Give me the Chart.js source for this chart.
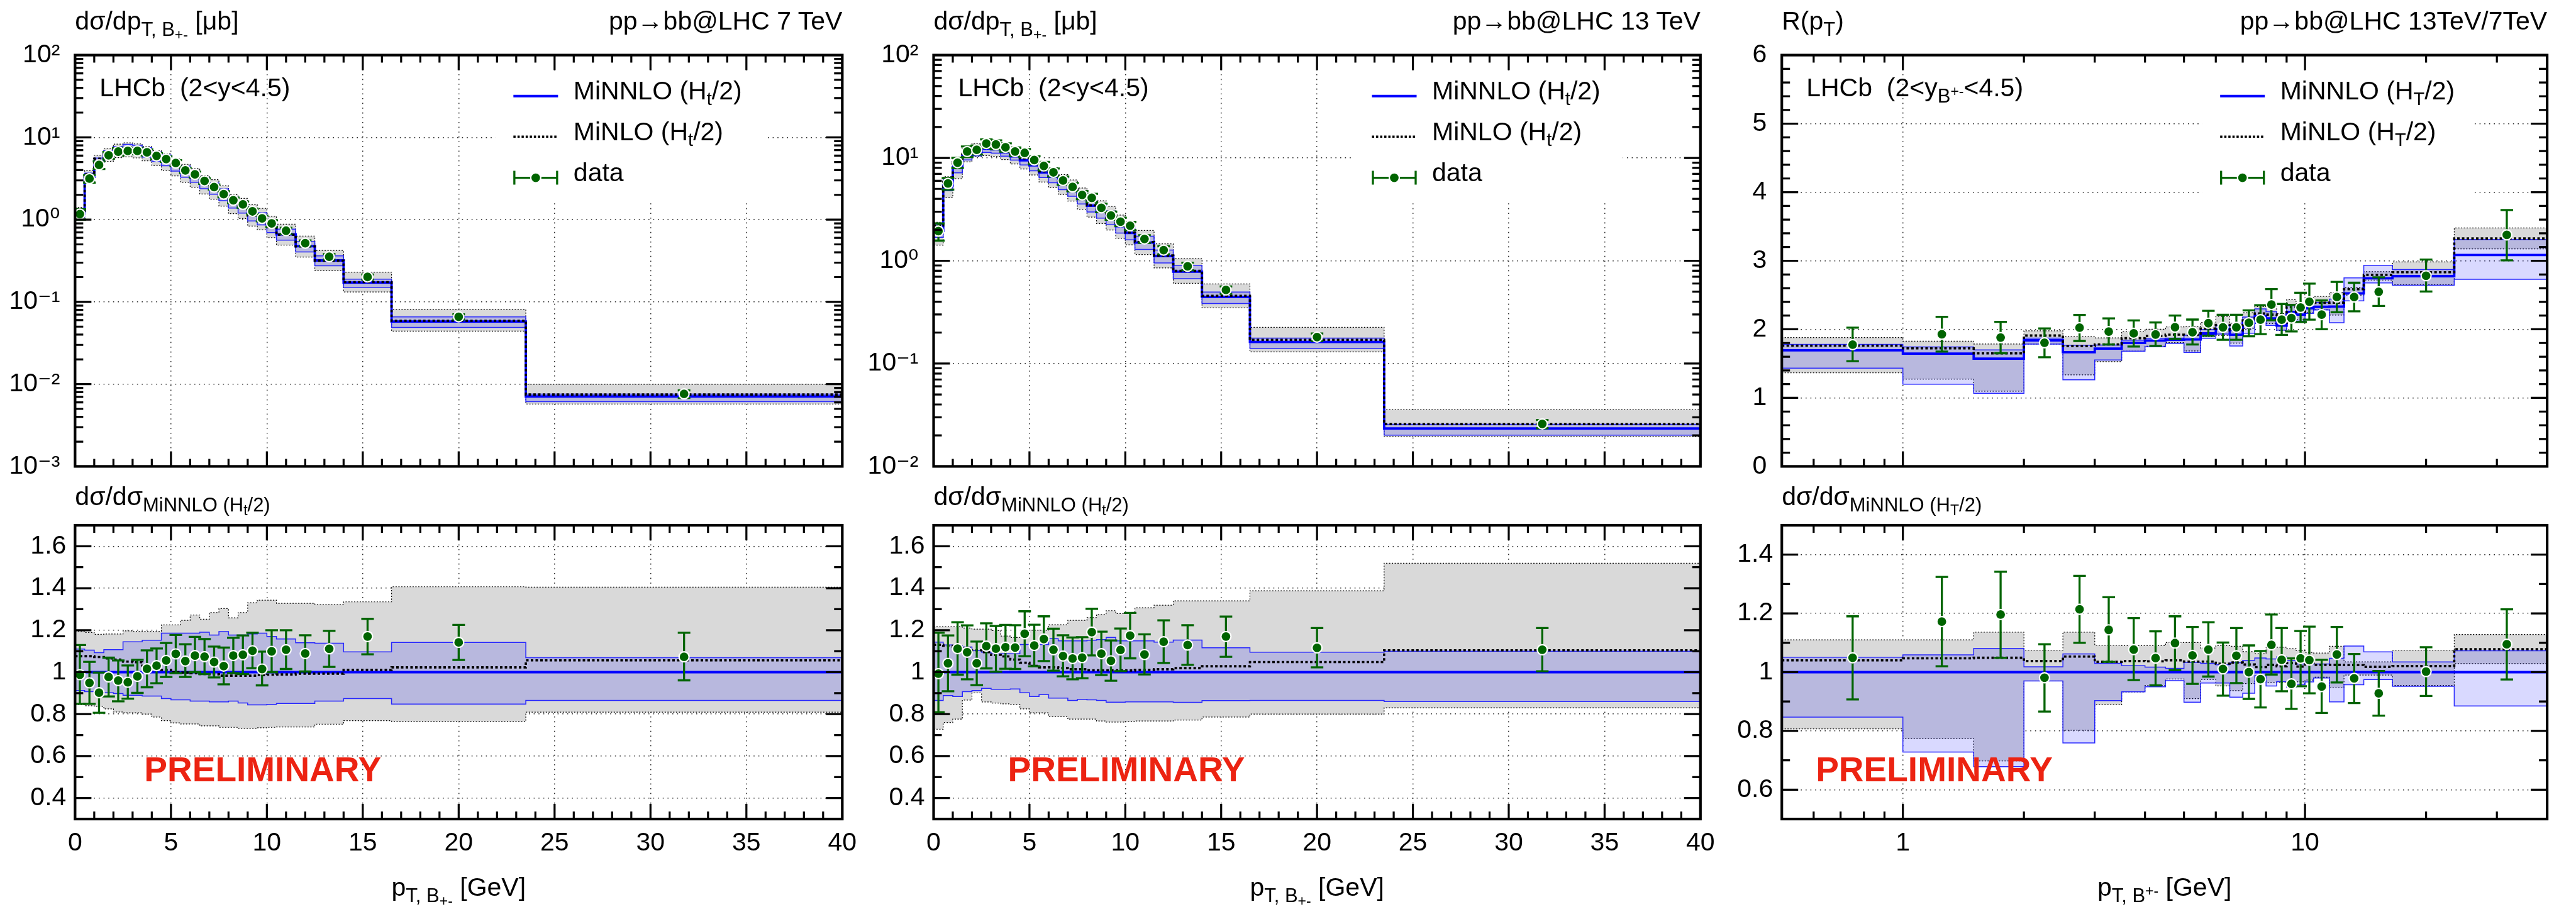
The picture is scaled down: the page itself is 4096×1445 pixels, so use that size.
<!DOCTYPE html>
<html><head><meta charset="utf-8">
<script src="https://cdn.jsdelivr.net/npm/chart.js@4.4.1/dist/chart.umd.min.js"></script>
<style>
html,body{margin:0;padding:0;background:#fff;}
body{width:4096px;height:1445px;position:relative;overflow:hidden;font-family:"Liberation Sans","DejaVu Sans",Arial,sans-serif;color:#000;}
canvas{position:absolute;}
.t{position:absolute;white-space:nowrap;font-size:41px;line-height:41px;}
.sb{position:relative;font-size:31px;top:10px;}
.ssb{position:relative;font-size:23px;top:6px;}
.ssp{position:relative;font-size:23px;top:-10px;}
.lsb{position:relative;font-size:29px;top:9px;}
.prelim{font-weight:bold;font-size:55px;line-height:55px;color:#ec2312;}
</style></head><body>
<script>
// ---------------- binning / categories ----------------
const EDGES = [0,0.5,1,1.5,2,2.5,3,3.5,4,4.5,5,5.5,6,6.5,7,7.5,8,8.5,9,9.5,10,10.5,11.5,12.5,14,16.5,23.5,40];
const EDGES_R = [0.5,1,1.5,2,2.5,3,3.5,4,4.5,5,5.5,6,6.5,7,7.5,8,8.5,9,9.5,10,10.5,11.5,12.5,14,16.5,23.5,40];
const XC = [0.25,0.75,1.25,1.75,2.25,2.75,3.25,3.75,4.25,4.75,5.25,5.75,6.25,6.75,7.25,7.75,8.25,8.75,9.25,9.75,10.25,11,12,13.25,15.25,20,31.75];
const XC_R = [0.75,1.25,1.75,2.25,2.75,3.25,3.75,4.25,4.75,5.25,5.75,6.25,6.75,7.25,7.75,8.25,8.75,9.25,9.75,10.25,11,12,13.25,15.25,20,31.75];

// ---------------- tick labels ----------------
const X_TICKS = [0,5,10,15,20,25,30,35,40];
const X_TICKS_LOG = [1,10];
const Y_TICKS_7 = [0.001,0.01,0.1,1,10,100];
const Y_TICKS_13 = [0.01,0.1,1,10,100];
const Y_LOG_LABELS = {'-3':'10\u207B\u00B3','-2':'10\u207B\u00B2','-1':'10\u207B\u00B9','0':'10\u2070','1':'10\u00B9','2':'10\u00B2'};
const Y_TICKS_RATIO = [0.4,0.6,0.8,1,1.2,1.4,1.6];
const Y_TICKS_R = [0,1,2,3,4,5,6];
const Y_TICKS_RR = [0.6,0.8,1,1.2,1.4];

// ---------------- 7 TeV : dsigma/dpT [ub] ----------------
const P1_DATA = [1.168,3.15,4.62,6.06,6.71,6.84,6.84,6.59,5.95,5.45,4.87,3.97,3.55,2.95,2.49,2.04,1.72,1.53,1.26,1.035,0.899,0.733,0.517,0.354,0.201,0.0658,0.0076];
const P1_DATA_ERR = [0.166,0.331,0.49,0.57,0.67,0.57,0.554,0.573,0.476,0.42,0.409,0.294,0.277,0.227,0.174,0.173,0.134,0.13,0.097,0.083,0.082,0.0616,0.0414,0.0273,0.0145,0.0048,0.0008];
const P1_MINNLO = [1.18,3.32,5.12,6.2,6.99,7.18,6.98,6.49,5.77,5.16,4.48,3.77,3.29,2.75,2.38,1.98,1.6,1.41,1.14,1.02,0.82,0.662,0.475,0.319,0.172,0.0576,0.00708];
const P1_MINNLO_LO = [1.076,3.01,4.63,5.59,6.28,6.39,6.21,5.75,5.11,4.51,3.89,3.27,2.84,2.37,2.04,1.70,1.38,1.20,0.962,0.861,0.694,0.563,0.404,0.275,0.150,0.0488,0.00612];
const P1_MINNLO_HI = [1.31,3.67,5.60,6.86,7.74,8.22,7.99,7.48,6.65,6.12,5.31,4.47,3.90,3.27,2.80,2.36,1.88,1.66,1.35,1.21,0.959,0.767,0.542,0.363,0.189,0.0658,0.00757];
const P1_MINLO = [1.27,3.57,5.49,6.60,7.41,7.54,7.31,6.68,5.89,5.22,4.48,3.76,3.27,2.73,2.36,1.95,1.57,1.39,1.12,1.006,0.81,0.655,0.472,0.317,0.174,0.0589,0.00748];
const P1_MINLO_LO = [0.997,2.79,4.29,5.12,5.66,5.79,5.63,5.19,4.54,3.97,3.40,2.84,2.48,2.05,1.77,1.46,1.18,1.03,0.834,0.750,0.604,0.489,0.351,0.240,0.132,0.0441,0.00573];
const P1_MINLO_HI = [1.41,3.95,6.04,7.33,8.26,8.59,8.33,7.75,6.89,6.32,5.49,4.70,4.18,3.44,3.06,2.58,2.01,1.81,1.52,1.37,1.10,0.879,0.631,0.422,0.230,0.0810,0.00995];

// ---------------- 7 TeV : ratio to MiNNLO ----------------
const R1_DATA = [0.988,0.949,0.902,0.977,0.96,0.952,0.98,1.016,1.031,1.056,1.087,1.053,1.079,1.074,1.048,1.029,1.079,1.083,1.102,1.015,1.099,1.107,1.089,1.111,1.17,1.142,1.073];
const R1_DATA_HI = [1.129,1.049,0.998,1.069,1.056,1.032,1.059,1.104,1.113,1.139,1.177,1.133,1.168,1.158,1.122,1.117,1.164,1.175,1.188,1.098,1.2,1.2,1.176,1.197,1.254,1.225,1.188];
const R1_DATA_LO = [0.849,0.849,0.806,0.884,0.861,0.874,0.901,0.928,0.947,0.977,0.995,0.977,1.0,0.991,0.975,0.942,0.995,0.991,1.019,0.937,1.0,1.015,1.003,1.025,1.085,1.058,0.961];
const R1_MINNLO = [1,1,1,1,1,1,1,1,1,1,1,1,1,1,1,1,1,1,1,1,1,1,1,1,1,1,1];
const R1_MINNLO_LO = [0.912,0.907,0.905,0.902,0.898,0.890,0.890,0.886,0.886,0.874,0.868,0.868,0.862,0.862,0.858,0.858,0.862,0.853,0.844,0.844,0.846,0.851,0.851,0.862,0.874,0.848,0.865];
const R1_MINNLO_HI = [1.110,1.105,1.093,1.107,1.107,1.145,1.145,1.152,1.152,1.186,1.186,1.186,1.186,1.190,1.177,1.193,1.177,1.177,1.182,1.186,1.170,1.158,1.140,1.138,1.097,1.142,1.069];
const R1_MINLO = [1.076,1.076,1.072,1.065,1.06,1.05,1.047,1.03,1.02,1.011,1.0,0.998,0.995,0.991,0.99,0.983,0.983,0.983,0.983,0.986,0.988,0.989,0.993,0.993,1.011,1.023,1.056];
const R1_MINLO_LO = [0.845,0.84,0.837,0.825,0.81,0.806,0.806,0.8,0.786,0.769,0.758,0.753,0.753,0.744,0.744,0.737,0.737,0.732,0.732,0.735,0.737,0.739,0.739,0.752,0.769,0.765,0.809];
const R1_MINLO_HI = [1.194,1.189,1.18,1.182,1.182,1.197,1.194,1.194,1.194,1.225,1.225,1.247,1.272,1.252,1.284,1.303,1.259,1.284,1.331,1.343,1.343,1.328,1.328,1.323,1.335,1.407,1.405];

// ---------------- 13 TeV : dsigma/dpT [ub] ----------------
const P2_DATA = [1.94,5.64,9.0,11.55,12.0,13.8,13.5,12.7,11.55,11.2,9.55,8.36,7.24,6.03,5.22,4.37,4.09,3.27,2.75,2.40,2.19,1.63,1.27,0.883,0.52,0.181,0.0259];
const P2_DATA_ERR = [0.37,0.72,1.01,1.35,1.2,1.32,1.32,1.18,1.08,1.01,0.84,0.77,0.65,0.55,0.49,0.40,0.38,0.31,0.25,0.22,0.20,0.143,0.113,0.074,0.043,0.0152,0.0024];
const P2_MINNLO = [1.95,5.41,8.09,10.55,11.5,12.28,12.14,11.35,10.34,9.47,8.47,7.22,6.54,5.6,4.9,4.09,3.43,3.0,2.61,2.17,1.865,1.504,1.109,0.782,0.444,0.162,0.0234];
const P2_MINNLO_LO = [1.69,4.80,7.15,9.57,10.49,11.33,11.14,10.42,9.51,8.54,7.49,6.45,5.73,4.91,4.24,3.56,2.98,2.60,2.24,1.86,1.60,1.29,0.952,0.669,0.384,0.140,0.0201];
const P2_MINNLO_HI = [2.23,6.11,9.10,11.82,12.70,13.45,13.21,12.35,11.25,10.72,9.59,8.17,7.59,6.43,5.63,4.70,3.95,3.47,3.04,2.49,2.14,1.73,1.27,0.902,0.496,0.177,0.0257];
const P2_MINLO = [2.20,6.09,9.06,11.76,12.70,13.45,13.14,12.20,10.96,9.90,8.72,7.39,6.69,5.71,4.97,4.15,3.46,3.03,2.63,2.19,1.88,1.52,1.125,0.797,0.456,0.170,0.0258];
const P2_MINLO_LO = [1.42,4.11,6.28,9.15,10.36,10.54,10.36,9.64,8.75,7.81,6.83,5.82,5.15,4.41,3.80,3.17,2.66,2.30,1.99,1.65,1.43,1.15,0.851,0.604,0.349,0.130,0.0194];
const P2_MINLO_HI = [2.37,6.58,9.84,12.77,13.86,14.80,14.54,13.30,12.05,11.32,10.16,8.66,8.02,6.87,6.11,5.10,4.32,3.83,3.37,2.78,2.39,1.97,1.46,1.05,0.595,0.225,0.0355];

// ---------------- 13 TeV : ratio to MiNNLO ----------------
const R2_DATA = [0.993,1.042,1.112,1.095,1.042,1.124,1.112,1.119,1.117,1.183,1.127,1.158,1.107,1.077,1.065,1.069,1.191,1.088,1.054,1.106,1.174,1.084,1.145,1.129,1.17,1.116,1.107];
const R2_DATA_HI = [1.188,1.175,1.238,1.223,1.146,1.233,1.22,1.225,1.224,1.29,1.226,1.266,1.207,1.176,1.165,1.167,1.302,1.193,1.151,1.208,1.282,1.18,1.247,1.224,1.265,1.21,1.21];
const R2_DATA_LO = [0.809,0.909,0.988,0.966,0.938,1.018,1.002,1.016,1.015,1.076,1.028,1.053,1.007,0.98,0.966,0.971,1.08,0.986,0.959,1.005,1.066,0.989,1.044,1.035,1.073,1.023,1.004];
const R2_MINNLO = [1,1,1,1,1,1,1,1,1,1,1,1,1,1,1,1,1,1,1,1,1,1,1,1,1,1,1];
const R2_MINNLO_LO = [0.865,0.888,0.884,0.907,0.912,0.923,0.918,0.918,0.92,0.902,0.884,0.893,0.876,0.876,0.865,0.87,0.868,0.865,0.857,0.857,0.858,0.858,0.858,0.856,0.864,0.865,0.86];
const R2_MINNLO_HI = [1.143,1.130,1.125,1.12,1.104,1.095,1.088,1.088,1.088,1.132,1.132,1.132,1.160,1.149,1.149,1.149,1.152,1.155,1.166,1.149,1.149,1.149,1.143,1.153,1.116,1.095,1.100];
const R2_MINLO = [1.130,1.126,1.12,1.115,1.104,1.095,1.082,1.075,1.06,1.045,1.03,1.023,1.023,1.019,1.014,1.014,1.009,1.009,1.009,1.009,1.008,1.011,1.014,1.019,1.028,1.048,1.104];
const R2_MINLO_LO = [0.728,0.76,0.776,0.867,0.901,0.858,0.853,0.849,0.846,0.825,0.806,0.806,0.788,0.788,0.776,0.776,0.776,0.767,0.762,0.762,0.765,0.767,0.767,0.772,0.786,0.8,0.83];
const R2_MINLO_HI = [1.216,1.216,1.216,1.21,1.205,1.205,1.198,1.172,1.165,1.195,1.2,1.2,1.226,1.226,1.247,1.247,1.26,1.275,1.293,1.279,1.279,1.307,1.319,1.34,1.34,1.388,1.519];

// ---------------- R(pT) = 13 TeV / 7 TeV ----------------
const P3_DATA = [1.776,1.928,1.88,1.804,2.023,1.967,1.941,1.924,2.031,1.957,2.089,2.028,2.028,2.094,2.14,2.361,2.14,2.163,2.318,2.402,2.214,2.471,2.471,2.547,2.781,3.377];
const P3_DATA_HI = [2.024,2.182,2.109,2.013,2.209,2.16,2.13,2.099,2.201,2.142,2.27,2.211,2.211,2.277,2.351,2.585,2.369,2.356,2.534,2.667,2.42,2.692,2.679,2.758,3.018,3.739];
const P3_DATA_LO = [1.536,1.675,1.651,1.593,1.83,1.779,1.748,1.758,1.86,1.779,1.906,1.847,1.847,1.898,1.929,2.132,1.919,1.969,2.107,2.14,2.0,2.249,2.262,2.341,2.552,3.006];
const P3_MINNLO = [1.693,1.645,1.572,1.839,1.666,1.719,1.802,1.836,1.848,1.851,1.94,2.006,1.92,2.094,2.193,2.16,2.054,2.253,2.214,2.307,2.328,2.331,2.524,2.745,2.775,3.084];
const P3_MINNLO_LO = [1.434,1.198,1.066,1.784,1.264,1.552,1.681,1.744,1.794,1.662,1.868,1.932,1.757,1.943,2.167,2.058,1.988,2.138,2.119,2.231,2.281,2.096,2.415,2.676,2.642,2.729];
const P3_MINNLO_HI = [1.779,1.742,1.699,1.872,1.769,1.771,1.842,1.867,1.872,1.912,1.998,2.056,1.981,2.178,2.298,2.257,2.161,2.343,2.276,2.392,2.393,2.441,2.749,2.934,2.872,3.309];
const P3_MINLO = [1.761,1.722,1.649,1.909,1.754,1.779,1.87,1.904,1.922,1.918,2.01,2.064,1.983,2.148,2.23,2.214,2.095,2.323,2.256,2.379,2.386,2.389,2.585,2.794,2.833,3.325];
const P3_MINLO_LO = [1.366,1.273,1.097,1.784,1.336,1.528,1.681,1.753,1.805,1.684,1.892,1.912,1.799,2.012,2.134,2.084,1.982,2.158,2.141,2.245,2.288,2.207,2.499,2.718,2.65,3.173];
const P3_MINLO_HI = [1.879,1.826,1.786,1.977,1.893,1.875,1.964,2.001,2.035,2.038,2.099,2.187,2.089,2.241,2.331,2.339,2.229,2.433,2.376,2.462,2.479,2.536,2.612,2.841,2.983,3.479];

// ---------------- R(pT) : ratio to MiNNLO ----------------
const R3_DATA = [1.049,1.172,1.196,0.981,1.214,1.144,1.077,1.048,1.099,1.057,1.077,1.011,1.056,1.0,0.976,1.093,1.042,0.96,1.047,1.041,0.951,1.06,0.979,0.928,1.002,1.095];
const R3_DATA_HI = [1.19,1.324,1.342,1.095,1.328,1.255,1.184,1.139,1.19,1.154,1.17,1.101,1.15,1.091,1.072,1.196,1.15,1.047,1.14,1.155,1.042,1.154,1.062,1.004,1.085,1.214];
const R3_DATA_LO = [0.907,1.02,1.049,0.866,1.1,1.035,0.973,0.955,1.007,0.96,0.985,0.92,0.963,0.909,0.88,0.992,0.935,0.875,0.952,0.928,0.861,0.965,0.895,0.852,0.919,0.975];
const R3_MINNLO = [1,1,1,1,1,1,1,1,1,1,1,1,1,1,1,1,1,1,1,1,1,1,1,1,1,1];
const R3_MINNLO_LO = [0.847,0.728,0.678,0.97,0.759,0.903,0.933,0.95,0.971,0.898,0.963,0.963,0.915,0.928,0.988,0.953,0.968,0.949,0.957,0.967,0.98,0.899,0.957,0.975,0.952,0.885];
const R3_MINNLO_HI = [1.051,1.059,1.081,1.018,1.062,1.03,1.022,1.017,1.013,1.033,1.03,1.025,1.032,1.04,1.048,1.045,1.052,1.04,1.028,1.037,1.028,1.047,1.089,1.069,1.035,1.073];
const R3_MINLO = [1.04,1.047,1.049,1.038,1.053,1.035,1.038,1.037,1.04,1.036,1.036,1.029,1.033,1.026,1.017,1.025,1.02,1.031,1.019,1.031,1.025,1.025,1.024,1.018,1.021,1.078];
const R3_MINLO_LO = [0.807,0.774,0.698,0.97,0.802,0.889,0.933,0.955,0.977,0.91,0.975,0.953,0.937,0.961,0.973,0.965,0.965,0.958,0.967,0.973,0.983,0.947,0.99,0.99,0.955,1.029];
const R3_MINLO_HI = [1.11,1.11,1.136,1.075,1.136,1.091,1.09,1.09,1.101,1.101,1.082,1.09,1.088,1.07,1.063,1.083,1.085,1.08,1.073,1.067,1.065,1.088,1.035,1.035,1.075,1.128];

// ---------------- drawing ----------------
const FONT = "'Liberation Sans', 'DejaVu Sans', Arial, sans-serif";
const GREEN = '#006400', BLUE = '#0000ff';

function stepPts(edges, vals) {
  const pts = vals.map((v, i) => ({x: edges[i], y: v}));
  pts.push({x: edges[edges.length - 1], y: vals[vals.length - 1]});
  return pts;
}
function ptPts(xs, vals) { return vals.map((v, i) => ({x: xs[i], y: v})); }

function range(a, b, s) { const r = []; for (let i = 0; a + i * s <= b + 1e-9; i++) r.push(+(a + i * s).toFixed(6)); return r; }
function logMinor(n0, n1) { const r = []; for (let n = n0; n <= n1; n++) for (let k = 2; k <= 9; k++) r.push(k * Math.pow(10, n)); return r; }

function makePlot(c) {
  const cl = Math.floor(c.L - 130), ct = Math.floor(c.T - 40);
  const cr = Math.ceil(c.R + 40), cb = Math.ceil(c.B + (c.xLabels ? 110 : 40));
  const cv = document.createElement('canvas');
  cv.width = cr - cl; cv.height = cb - ct;
  cv.style.left = cl + 'px'; cv.style.top = ct + 'px';
  cv.style.width = (cr - cl) + 'px'; cv.style.height = (cb - ct) + 'px';
  document.body.appendChild(cv);
  const yW = c.L - cl, xH = cb - c.B, padT = c.T - ct, padR = cr - c.R;

  const plug = {
    id: 'rootFrame',
    beforeDatasetsDraw(chart) {
      if (!c.legend) return;
      const a = chart.chartArea, ctx = chart.ctx;
      ctx.save(); ctx.fillStyle = '#fff';
      ctx.fillRect(a.left + 668, a.top + 26, 428, 208);
      ctx.restore();
    },
    beforeDatasetDraw(chart, args) {
      if (args.index !== 0) return;
      const ctx = chart.ctx, a = chart.chartArea, xs = chart.scales.x, ys = chart.scales.y;
      ctx.save();
      ctx.beginPath(); ctx.rect(a.left, a.top, a.right - a.left, a.bottom - a.top); ctx.clip();
      ctx.strokeStyle = GREEN; ctx.lineWidth = 3.3;
      c.dataX.forEach((xv, i) => {
        const px = xs.getPixelForValue(xv), ph = ys.getPixelForValue(c.errHi[i]), pl = ys.getPixelForValue(c.errLo[i]);
        ctx.beginPath();
        ctx.moveTo(px, ph); ctx.lineTo(px, pl);
        ctx.moveTo(px - 10, ph); ctx.lineTo(px + 10, ph);
        ctx.moveTo(px - 10, pl); ctx.lineTo(px + 10, pl);
        ctx.stroke();
      });
      ctx.restore();
    },
    afterDraw(chart) {
      const ctx = chart.ctx, a = chart.chartArea, xs = chart.scales.x, ys = chart.scales.y;
      ctx.save();
      if (c.legend) {
        const x0 = a.left + 697, x1 = a.left + 768;
        ctx.lineCap = 'butt';
        ctx.strokeStyle = BLUE; ctx.lineWidth = 4;
        ctx.beginPath(); ctx.moveTo(x0, a.top + 65.1); ctx.lineTo(x1, a.top + 65.1); ctx.stroke();
        ctx.strokeStyle = '#000'; ctx.lineWidth = 3.5; ctx.setLineDash([3.5, 3]);
        ctx.beginPath(); ctx.moveTo(x0, a.top + 129.6); ctx.lineTo(x1, a.top + 129.6); ctx.stroke();
        ctx.setLineDash([]);
        const yd = a.top + 195;
        ctx.strokeStyle = GREEN; ctx.lineWidth = 3.3;
        ctx.beginPath(); ctx.moveTo(x0, yd); ctx.lineTo(x1, yd);
        ctx.moveTo(x0 + 1.5, yd - 11); ctx.lineTo(x0 + 1.5, yd + 11);
        ctx.moveTo(x1 - 1.5, yd - 11); ctx.lineTo(x1 - 1.5, yd + 11);
        ctx.stroke();
        ctx.beginPath(); ctx.arc((x0 + x1) / 2, yd, 8, 0, Math.PI * 2);
        ctx.fillStyle = GREEN; ctx.fill();
        ctx.strokeStyle = '#fff'; ctx.lineWidth = 2.2; ctx.stroke();
      }
      // inward ticks on all four sides
      ctx.strokeStyle = '#000'; ctx.lineWidth = 3.2; ctx.lineCap = 'butt';
      ctx.beginPath();
      const xt = [[c.xMajor, 24], [c.xMinor, 12]];
      xt.forEach(([vals, len]) => vals.forEach(v => {
        const p = xs.getPixelForValue(v);
        if (p <= a.left + 1 || p >= a.right - 1) return;
        ctx.moveTo(p, a.bottom); ctx.lineTo(p, a.bottom - len);
        ctx.moveTo(p, a.top); ctx.lineTo(p, a.top + len);
      }));
      const yt = [[c.yMajor, 26], [c.yMinor, 13]];
      yt.forEach(([vals, len]) => vals.forEach(v => {
        const p = ys.getPixelForValue(v);
        if (p <= a.top + 1 || p >= a.bottom - 1) return;
        ctx.moveTo(a.left, p); ctx.lineTo(a.left + len, p);
        ctx.moveTo(a.right, p); ctx.lineTo(a.right - len, p);
      }));
      ctx.stroke();
      ctx.lineWidth = 4.2;
      ctx.strokeRect(a.left, a.top, a.right - a.left, a.bottom - a.top);
      ctx.restore();
    }
  };

  const bandBlue = 'rgba(30,30,255,0.95)';
  const datasets = [
    {label: 'data', data: ptPts(c.dataX, c.data), showLine: false, pointRadius: 8, pointBackgroundColor: GREEN, pointBorderColor: '#fff', pointBorderWidth: 2.2, order: 0},
    {label: 'MiNLO', data: stepPts(c.edges, c.minlo), borderColor: '#000', borderWidth: 3.6, borderDash: [4, 3.5], stepped: true, pointRadius: 0, fill: false, order: 1},
    {label: 'MiNNLO', data: stepPts(c.edges, c.minnlo), borderColor: BLUE, borderWidth: 3.8, stepped: true, pointRadius: 0, fill: false, order: 2},
    {label: 'MiNNLO lo', data: stepPts(c.edges, c.minnloLo), borderColor: bandBlue, borderWidth: 1.5, stepped: true, pointRadius: 0, fill: false, order: 3},
    {label: 'MiNNLO hi', data: stepPts(c.edges, c.minnloHi), borderColor: bandBlue, borderWidth: 1.5, stepped: true, pointRadius: 0, fill: '-1', backgroundColor: 'rgba(0,0,255,0.15)', order: 4},
    {label: 'MiNLO lo', data: stepPts(c.edges, c.minloLo), borderColor: '#000', borderWidth: 1.2, borderDash: [2, 2.5], stepped: true, pointRadius: 0, fill: false, order: 5},
    {label: 'MiNLO hi', data: stepPts(c.edges, c.minloHi), borderColor: '#000', borderWidth: 1.2, borderDash: [2, 2.5], stepped: true, pointRadius: 0, fill: '-1', backgroundColor: '#d9d9d9', order: 6}
  ];

  const gridOpts = {color: '#2a2a2a', lineWidth: 1.5, drawTicks: false};
  const borderOpts = {display: false, dash: [1.6, 6]};
  new Chart(cv, {
    type: 'line',
    data: {datasets},
    options: {
      responsive: false, animation: false, devicePixelRatio: 1, events: [],
      layout: {padding: {left: 0, top: padT, right: padR, bottom: 0}, autoPadding: false},
      plugins: {legend: {display: false}, tooltip: {enabled: false}},
      scales: {
        x: {
          type: c.xType, min: c.xMin, max: c.xMax, position: 'bottom',
          grid: gridOpts, border: borderOpts,
          ticks: {display: c.xLabels, autoSkip: false, maxRotation: 0, padding: 14, color: '#000', font: {family: FONT, size: 41}, callback: v => String(v)},
          afterBuildTicks: s => { s.ticks = c.xTicks.map(v => ({value: v})); },
          afterFit: s => { s.height = xH; }
        },
        y: {
          type: c.yType, min: c.yMin, max: c.yMax, position: 'left',
          grid: gridOpts, border: borderOpts,
          ticks: {autoSkip: false, padding: c.yPad, color: '#000', font: {family: FONT, size: 41}, callback: c.yLabel},
          afterBuildTicks: s => { s.ticks = c.yTicks.map(v => ({value: v})); },
          afterFit: s => { s.width = yW; }
        }
      }
    },
    plugins: [plug]
  });
}

function txt(html, x, base, align, cls, fs) {
  const d = document.createElement('div');
  d.className = 't' + (cls ? ' ' + cls : '');
  d.innerHTML = html;
  d.style.top = (base - 0.8465 * fs) + 'px';
  if (align === 'right') d.style.right = (4096 - x) + 'px';
  else d.style.left = x + 'px';
  if (align === 'center') d.style.transform = 'translateX(-50%)';
  document.body.appendChild(d);
}

// ---------------- layout (px in the 4096x1445 window) ----------------
const PANELS = [{L: 119.35, R: 1339.3}, {L: 1484.5, R: 2703.8}, {L: 2833.2, R: 4050.1}];
const TOP = {T: 79.0, B: 749.1}, BOT = {T: 835.0, B: 1302.0};
const logLabel = v => Y_LOG_LABELS[String(Math.round(Math.log10(v)))] || '';
const linLabel = v => String(v);
const linMinor = range(0, 40, 1);
const logXMinor = [0.6, 0.7, 0.8, 0.9, 2, 3, 4, 5, 6, 7, 8, 9, 20, 30];

const TOPS = [
  {edges: EDGES, dataX: XC, data: P1_DATA, err: P1_DATA_ERR, minnlo: P1_MINNLO, minnloLo: P1_MINNLO_LO, minnloHi: P1_MINNLO_HI, minlo: P1_MINLO, minloLo: P1_MINLO_LO, minloHi: P1_MINLO_HI, yMin: 0.001, yMax: 100, yTicks: Y_TICKS_7, yMinor: logMinor(-3, 1)},
  {edges: EDGES, dataX: XC, data: P2_DATA, err: P2_DATA_ERR, minnlo: P2_MINNLO, minnloLo: P2_MINNLO_LO, minnloHi: P2_MINNLO_HI, minlo: P2_MINLO, minloLo: P2_MINLO_LO, minloHi: P2_MINLO_HI, yMin: 0.01, yMax: 100, yTicks: Y_TICKS_13, yMinor: logMinor(-2, 1)}
];
TOPS.forEach((p, i) => {
  makePlot(Object.assign({}, PANELS[i], TOP, {
    xType: 'linear', xMin: 0, xMax: 40, xTicks: X_TICKS, xMajor: X_TICKS, xMinor: linMinor, xLabels: false,
    yType: 'logarithmic', yLabel: logLabel, yPad: 24, yMajor: p.yTicks, legend: true,
    edges: p.edges, dataX: p.dataX, data: p.data,
    errHi: p.data.map((v, k) => v + p.err[k]), errLo: p.data.map((v, k) => v - p.err[k]),
    minnlo: p.minnlo, minnloLo: p.minnloLo, minnloHi: p.minnloHi, minlo: p.minlo, minloLo: p.minloLo, minloHi: p.minloHi,
    yMin: p.yMin, yMax: p.yMax, yTicks: p.yTicks, yMinor: p.yMinor
  }));
});
const RATS = [
  {data: R1_DATA, hi: R1_DATA_HI, lo: R1_DATA_LO, minnlo: R1_MINNLO, minnloLo: R1_MINNLO_LO, minnloHi: R1_MINNLO_HI, minlo: R1_MINLO, minloLo: R1_MINLO_LO, minloHi: R1_MINLO_HI},
  {data: R2_DATA, hi: R2_DATA_HI, lo: R2_DATA_LO, minnlo: R2_MINNLO, minnloLo: R2_MINNLO_LO, minnloHi: R2_MINNLO_HI, minlo: R2_MINLO, minloLo: R2_MINLO_LO, minloHi: R2_MINLO_HI}
];
RATS.forEach((p, i) => {
  makePlot(Object.assign({}, PANELS[i], BOT, {
    xType: 'linear', xMin: 0, xMax: 40, xTicks: X_TICKS, xMajor: X_TICKS, xMinor: linMinor, xLabels: true,
    yType: 'linear', yMin: 0.3, yMax: 1.7, yTicks: Y_TICKS_RATIO, yLabel: linLabel, yPad: 14,
    yMajor: Y_TICKS_RATIO, yMinor: range(0.3, 1.7, 0.1), legend: false,
    edges: EDGES, dataX: XC, data: p.data, errHi: p.hi, errLo: p.lo,
    minnlo: p.minnlo, minnloLo: p.minnloLo, minnloHi: p.minnloHi, minlo: p.minlo, minloLo: p.minloLo, minloHi: p.minloHi
  }));
});
makePlot(Object.assign({}, PANELS[2], TOP, {
  xType: 'logarithmic', xMin: 0.5, xMax: 40, xTicks: X_TICKS_LOG, xMajor: X_TICKS_LOG, xMinor: logXMinor, xLabels: false,
  yType: 'linear', yMin: 0, yMax: 6, yTicks: Y_TICKS_R, yLabel: linLabel, yPad: 24,
  yMajor: Y_TICKS_R, yMinor: range(0, 6, 0.2), legend: true,
  edges: EDGES_R, dataX: XC_R, data: P3_DATA, errHi: P3_DATA_HI, errLo: P3_DATA_LO,
  minnlo: P3_MINNLO, minnloLo: P3_MINNLO_LO, minnloHi: P3_MINNLO_HI, minlo: P3_MINLO, minloLo: P3_MINLO_LO, minloHi: P3_MINLO_HI
}));
makePlot(Object.assign({}, PANELS[2], BOT, {
  xType: 'logarithmic', xMin: 0.5, xMax: 40, xTicks: X_TICKS_LOG, xMajor: X_TICKS_LOG, xMinor: logXMinor, xLabels: true,
  yType: 'linear', yMin: 0.5, yMax: 1.5, yTicks: Y_TICKS_RR, yLabel: linLabel, yPad: 14,
  yMajor: Y_TICKS_RR, yMinor: range(0.5, 1.5, 0.1), legend: false,
  edges: EDGES_R, dataX: XC_R, data: R3_DATA, errHi: R3_DATA_HI, errLo: R3_DATA_LO,
  minnlo: R3_MINNLO, minnloLo: R3_MINNLO_LO, minnloHi: R3_MINNLO_HI, minlo: R3_MINLO, minloLo: R3_MINLO_LO, minloHi: R3_MINLO_HI
}));

// ---------------- texts ----------------
const TITLES = ['pp\u2192bb@LHC 7 TeV', 'pp\u2192bb@LHC 13 TeV', 'pp\u2192bb@LHC 13TeV/7TeV'];
const YTITLES = ['d\u03C3/dp<span class="sb">T, B<span class="ssb">+-</span></span> [\u03BCb]', 'd\u03C3/dp<span class="sb">T, B<span class="ssb">+-</span></span> [\u03BCb]', 'R(p<span class="sb">T</span>)'];
const RTITLES = ['d\u03C3/d\u03C3<span class="sb">MiNNLO (H<span class="ssb">t</span>/2)</span>', 'd\u03C3/d\u03C3<span class="sb">MiNNLO (H<span class="ssb">t</span>/2)</span>', 'd\u03C3/d\u03C3<span class="sb">MiNNLO (H<span class="ssb">T</span>/2)</span>'];
const LHCB = ['LHCb&nbsp;&nbsp;(2&lt;y&lt;4.5)', 'LHCb&nbsp;&nbsp;(2&lt;y&lt;4.5)', 'LHCb&nbsp;&nbsp;(2&lt;y<span class="sb">B<span class="ssp">+-</span></span>&lt;4.5)'];
const LEG = [
  ['MiNNLO (H<span class="lsb">t</span>/2)', 'MiNLO (H<span class="lsb">t</span>/2)', 'data'],
  ['MiNNLO (H<span class="lsb">t</span>/2)', 'MiNLO (H<span class="lsb">t</span>/2)', 'data'],
  ['MiNNLO (H<span class="lsb">T</span>/2)', 'MiNLO (H<span class="lsb">T</span>/2)', 'data']
];
const XTITLES = ['p<span class="sb">T, B<span class="ssb">+-</span></span> [GeV]', 'p<span class="sb">T, B<span class="ssb">+-</span></span> [GeV]', 'p<span class="sb">T, B<span class="ssp">+-</span></span> [GeV]'];
const PRE_OFF = [110, 118, 54];

PANELS.forEach((P, i) => {
  txt(YTITLES[i], P.L, 47.5, 'left', '', 41);
  txt(TITLES[i], P.R, 47.5, 'right', '', 41);
  txt(LHCB[i], P.L + 39, 153.6, 'left', '', 41);
  [158.9, 223.4, 288.8].forEach((b, k) => txt(LEG[i][k], P.L + 792.5, b, 'left', '', 41));
  txt(RTITLES[i], P.L, 803.8, 'left', '', 41);
  txt('PRELIMINARY', P.L + PRE_OFF[i], 1242.1, 'left', 'prelim', 55);
  txt(XTITLES[i], (P.L + P.R) / 2, 1425, 'center', '', 41);
});
</script>
</body></html>
